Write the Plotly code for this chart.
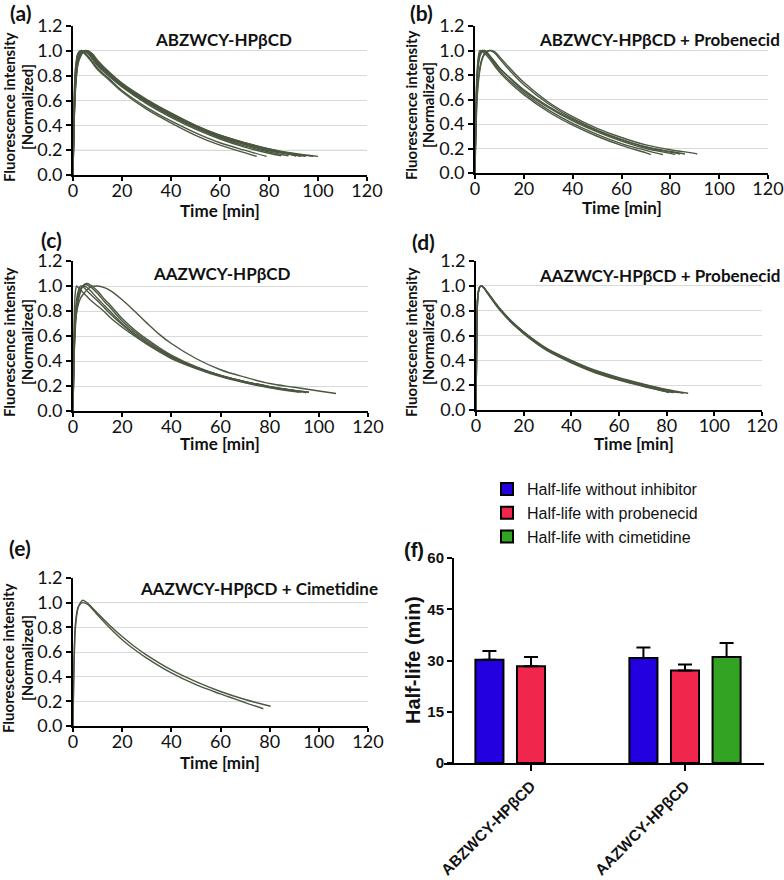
import plotly.graph_objects as go

# ---------------- data ----------------
# Panel (a) ABZWCY-HPβCD
A_GRID = [0, 0.5, 1, 2, 3, 4, 6, 8, 10, 15, 20, 30, 40, 50, 60, 70, 80, 90]
A_END = [75, 79, 85, 88, 91, 93, 95, 98, 100]
A_CURVES = [
    [0, .62, .86, .98, 1.0, .99, .95, .90, .85, .76, .67, .53, .42, .32, .24, .18, .15],
    [0, .58, .84, .97, 1.0, 1.0, .96, .91, .86, .77, .68, .545, .435, .34, .26, .20, .15],
    [0, .55, .80, .95, .99, 1.0, .98, .93, .88, .79, .71, .575, .465, .37, .29, .225, .175, .155],
    [0, .52, .78, .94, .99, 1.0, .985, .94, .89, .80, .715, .585, .475, .38, .30, .235, .185, .155],
    [0, .50, .76, .93, .98, 1.0, .99, .95, .90, .805, .72, .59, .48, .385, .305, .245, .195, .16, .15],
    [0, .48, .74, .92, .97, .995, 1.0, .96, .905, .81, .725, .595, .485, .39, .31, .25, .20, .16, .15],
    [0, .46, .72, .91, .97, .99, 1.0, .965, .91, .815, .73, .60, .49, .395, .315, .255, .205, .165, .15],
    [0, .45, .70, .90, .96, .99, 1.0, .97, .915, .82, .735, .605, .495, .40, .32, .26, .21, .17, .15],
    [0, .44, .68, .89, .95, .985, 1.0, .975, .925, .825, .74, .61, .50, .40, .32, .26, .21, .175, .15],
]

# Panel (b) ABZWCY-HPβCD + Probenecid
B_GRID = [0, 0.5, 1, 2, 3, 4, 6, 8, 10, 15, 20, 30, 40, 50, 60, 70, 80, 90]
B_END = [72, 77, 82, 84, 86, 91]
B_CURVES = [
    [0, .62, .87, 1.0, .99, .975, .93, .875, .825, .725, .64, .50, .39, .30, .225, .165, .15],
    [0, .58, .84, .98, 1.0, .99, .945, .89, .84, .74, .655, .515, .405, .315, .24, .185, .15],
    [0, .55, .80, .95, .99, 1.0, .96, .91, .86, .76, .67, .535, .425, .335, .26, .20, .16, .15],
    [0, .57, .82, .97, 1.0, .995, .955, .905, .855, .765, .68, .545, .435, .345, .27, .21, .17, .155],
    [0, .45, .68, .86, .94, .98, 1.0, .98, .935, .82, .72, .565, .445, .35, .275, .215, .175, .155],
    [0, .42, .65, .84, .93, .97, 1.0, .99, .95, .84, .74, .58, .46, .365, .29, .23, .19, .16, .155],
]

# Panel (c) AAZWCY-HPβCD
C_GRID = [0, 0.5, 1, 1.5, 2, 3, 4, 5.5, 7, 10, 13, 15, 20, 25, 30, 35, 40, 50, 60, 70, 80, 90, 100]
C_END = [92, 93, 95, 96, 96, 107]
C_CURVES = [
    [0, .75, .96, 1.0, .99, .97, .95, .92, .89, .84, .79, .75, .67, .60, .535, .475, .42, .34, .275, .225, .185, .155, .15],
    [0, .50, .75, .86, .92, .98, 1.0, .99, .965, .90, .84, .80, .70, .62, .55, .487, .43, .345, .28, .23, .19, .16, .15],
    [0, .45, .68, .80, .87, .95, 1.0, 1.02, 1.01, .96, .89, .85, .74, .65, .575, .508, .448, .355, .285, .235, .195, .165, .145],
    [0, .48, .72, .83, .89, .96, 1.0, 1.01, .995, .94, .87, .83, .72, .635, .562, .497, .44, .35, .285, .235, .195, .165, .15],
    [0, .55, .80, .90, .95, 1.0, .995, .965, .935, .88, .82, .78, .69, .61, .545, .487, .435, .35, .285, .235, .195, .165, .15],
    [0, .50, .72, .79, .84, .90, .93, .965, .99, 1.0, .985, .965, .89, .80, .705, .615, .54, .42, .33, .27, .22, .19, .16, .14],
]

# Panel (d) AAZWCY-HPβCD + Probenecid
D_GRID = [0, 0.3, 0.7, 1, 1.5, 2.2, 3, 5, 8, 10, 15, 20, 25, 30, 40, 50, 60, 70, 80]
D_END = [81, 83, 85, 87, 89]
D_CURVES = [
    [0, .6, .9, .95, .99, 1.0, .99, .935, .855, .805, .70, .615, .54, .475, .38, .30, .24, .19, .145, .14],
    [0, .6, .9, .95, .99, 1.0, .99, .937, .858, .808, .703, .619, .545, .48, .385, .305, .245, .195, .15, .14],
    [0, .6, .9, .95, .99, 1.0, .99, .94, .86, .812, .707, .623, .55, .485, .39, .31, .25, .20, .155, .14],
    [0, .6, .9, .95, .99, 1.0, .99, .942, .863, .815, .71, .627, .553, .49, .395, .315, .255, .205, .16, .135],
    [0, .6, .9, .95, .99, 1.0, .99, .945, .866, .818, .714, .63, .557, .493, .40, .32, .26, .21, .165, .135],
]

# Panel (e) AAZWCY-HPβCD + Cimetidine
E_GRID = [0, 0.5, 1, 2, 3, 4, 6, 8, 10, 15, 20, 25, 30, 40, 50, 60, 70]
E_END = [80.4, 77.4]
E_CURVES = [
    [0, .55, .80, .95, 1.0, 1.02, .995, .955, .915, .815, .725, .645, .575, .455, .36, .28, .215, .16],
    [0, .60, .83, .96, .99, 1.0, .985, .945, .90, .795, .70, .62, .55, .43, .335, .26, .19, .14],
]

PANEL_TITLES = ["ABZWCY-HPβCD", "ABZWCY-HPβCD + Probenecid", "AAZWCY-HPβCD",
                "AAZWCY-HPβCD + Probenecid", "AAZWCY-HPβCD + Cimetidine"]
PANEL_LETTERS = ["(a)", "(b)", "(c)", "(d)", "(e)", "(f)"]
GREEN_GRID = [[0.2, 0.6], [0.6], [], [], [1.0]]
X_TICKS = [0, 20, 40, 60, 80, 100, 120]
Y_TICKS = [0.0, 0.2, 0.4, 0.6, 0.8, 1.0, 1.2]

# Panel (f) half-life bars
F_CATEGORIES = ["ABZWCY-HPβCD", "AAZWCY-HPβCD"]
F_NAMES = ["Half-life without inhibitor", "Half-life with probenecid", "Half-life with cimetidine"]
F_NO_INHIB = [30.2, 30.7]
F_NO_INHIB_ERR = [2.6, 3.1]
F_PROBENECID = [28.3, 27.1]
F_PROBENECID_ERR = [2.7, 1.7]
F_CIMETIDINE = [None, 31.0]
F_CIMETIDINE_ERR = [0, 4.1]
F_Y_TICKS = [0, 15, 30, 45, 60]

# ---------------- layout helpers ----------------
W, H = 784, 880
def px(x):
    return x / W
def py(y):
    return 1 - y / H

LINE_COLOR = "#4b5740"
CAL = "Lato"
ARIAL = "Liberation Sans"

# pixel boxes: (x0, x1, ytop, ybottom)
BOXES = [(73, 367, 26, 175), (475, 768, 26, 173), (73, 368, 261, 411),
         (476, 762, 261, 410), (73, 368, 578, 726)]

fig = go.Figure()
layout = dict()
annotations = []
shapes = []

panel_data = [(A_GRID, A_END, A_CURVES), (B_GRID, B_END, B_CURVES), (C_GRID, C_END, C_CURVES),
              (D_GRID, D_END, D_CURVES), (E_GRID, E_END, E_CURVES)]

for i, (grid, ends, curves) in enumerate(panel_data, start=1):
    xa = "x" if i == 1 else f"x{i}"
    ya = "y" if i == 1 else f"y{i}"
    for end, ys in zip(ends, curves):
        t = list(grid[:len(ys) - 1]) + [end]
        fig.add_trace(go.Scatter(x=t, y=ys, mode="lines", xaxis=xa, yaxis=ya,
                                 line=dict(color=LINE_COLOR, width=1.4, shape="spline", smoothing=1.0),
                                 showlegend=False, hoverinfo="skip"))
    x0, x1, yt, yb = BOXES[i - 1]
    kx = "xaxis" if i == 1 else f"xaxis{i}"
    ky = "yaxis" if i == 1 else f"yaxis{i}"
    layout[kx] = dict(domain=[px(x0), px(x1)], anchor=ya, range=[0, 120], automargin=False,
                      tickvals=X_TICKS, showgrid=False, zeroline=False,
                      showline=True, linecolor="black", linewidth=2,
                      ticks="outside", ticklen=4, tickwidth=1.5, tickcolor="black",
                      ticklabelstandoff=-6,
                      tickfont=dict(family=CAL, size=18, color="#111"), fixedrange=True)
    layout[ky] = dict(domain=[py(yb), py(yt)], anchor=xa, range=[0, 1.2], automargin=False,
                      tickvals=Y_TICKS, tickformat=".1f", showgrid=True,
                      gridcolor="#d9d9d9", gridwidth=1, zeroline=False,
                      showline=True, linecolor="black", linewidth=2,
                      ticks="outside", ticklen=5, tickwidth=1.5, tickcolor="black",
                      tickfont=dict(family=CAL, size=18, color="#111"), fixedrange=True)
    for gy in GREEN_GRID[i - 1]:
        shapes.append(dict(type="line", xref=f"{xa} domain", yref=ya, x0=0, x1=1, y0=gy, y1=gy,
                           line=dict(color="#c8ecc4", width=1), layer="below"))

# titles, labels (window pixel positions)
TITLE_POS = [(223, 40, "center"), (782, 40, "right"), (222, 273, "center"),
             (782, 275, "right"), (380, 588, "right")]
LETTER_POS = [(20, 13), (422, 12), (51, 240), (423, 241), (20, 547)]
TIME_POS = [(220, 210), (622, 207), (220, 443), (634, 443), (220, 762)]
YT_POS = [(9, 27, 107), (411, 428, 105), (9, 27, 342), (411, 428, 342), (8, 27, 658)]

for i in range(5):
    tx, tyy, anc = TITLE_POS[i]
    annotations.append(dict(text=PANEL_TITLES[i], x=px(tx), y=py(tyy), xref="paper", yref="paper",
                            xanchor=anc, yanchor="middle", showarrow=False,
                            font=dict(family=CAL, size=17, color="#111", weight="bold")))
    lx, ly = LETTER_POS[i]
    annotations.append(dict(text=PANEL_LETTERS[i], x=px(lx), y=py(ly), xref="paper", yref="paper",
                            xanchor="center", yanchor="middle", showarrow=False,
                            font=dict(family=CAL, size=21, color="#111", weight="bold")))
    mx, my = TIME_POS[i]
    annotations.append(dict(text="Time [min]", x=px(mx), y=py(my), xref="paper", yref="paper",
                            xanchor="center", yanchor="middle", showarrow=False,
                            font=dict(family=CAL, size=17, color="#111", weight="bold")))
    a1, a2, ay = YT_POS[i]
    annotations.append(dict(text="Fluorescence intensity", x=px(a1), y=py(ay), xref="paper", yref="paper",
                            xanchor="center", yanchor="middle", showarrow=False, textangle=-90,
                            font=dict(family=CAL, size=15, color="#111", weight="bold")))
    annotations.append(dict(text="[Normalized]", x=px(a2), y=py(ay), xref="paper", yref="paper",
                            xanchor="center", yanchor="middle", showarrow=False, textangle=-90,
                            font=dict(family=CAL, size=15, color="#111", weight="bold")))

# ---------------- panel (f) ----------------
bar_colors = ["#2200e0", "#f0264c", "#33a324"]
f_vals = [F_NO_INHIB, F_PROBENECID, F_CIMETIDINE]
f_errs = [F_NO_INHIB_ERR, F_PROBENECID_ERR, F_CIMETIDINE_ERR]
for name, vals, errs, col in zip(F_NAMES, f_vals, f_errs, bar_colors):
    fig.add_trace(go.Bar(x=F_CATEGORIES, y=vals, name=name, xaxis="x6", yaxis="y6",
                         marker=dict(color=col, line=dict(color="black", width=2)),
                         error_y=dict(type="data", array=errs, arrayminus=[0] * len(errs),
                                      symmetric=False, color="black", thickness=2, width=7),
                         legendgroup=name, hoverinfo="skip"))

layout["xaxis6"] = dict(domain=[px(444), px(764)], anchor="y6", range=[-0.565, 1.513], automargin=False,
                        showgrid=False, zeroline=False, showline=True, linecolor="black", linewidth=2,
                        ticks="outside", ticklen=6, tickwidth=2, tickcolor="black", tickangle=-45,
                        tickfont=dict(family=ARIAL, size=15.5, color="#111", weight="bold"),
                        fixedrange=True)
layout["yaxis6"] = dict(domain=[py(763), py(558)], anchor="free", position=px(453), range=[0, 60],
                        automargin=False,
                        tickvals=F_Y_TICKS, showgrid=False, zeroline=False, showline=True,
                        linecolor="black", linewidth=2, ticks="outside", ticklen=5, tickwidth=2,
                        tickcolor="black", tickfont=dict(family=ARIAL, size=15, color="#111", weight="bold"),
                        fixedrange=True)
annotations.append(dict(text="Half-life (min)", x=px(413), y=py(660), xref="paper", yref="paper",
                        xanchor="center", yanchor="middle", showarrow=False, textangle=-90,
                        font=dict(family=ARIAL, size=20, color="#111", weight="bold")))
annotations.append(dict(text="(f)", x=px(414), y=py(550), xref="paper", yref="paper",
                        xanchor="center", yanchor="middle", showarrow=False,
                        font=dict(family=ARIAL, size=20, color="#111", weight="bold")))

fig.update_layout(
    width=W, height=H, margin=dict(l=0, r=0, t=0, b=0, autoexpand=False),
    paper_bgcolor="white", plot_bgcolor="white",
    barmode="group", bargap=0.19, bargroupgap=0.325,
    showlegend=True,
    legend=dict(x=px(487), y=py(472), xanchor="left", yanchor="top",
                font=dict(family=ARIAL, size=16, color="#111"),
                bgcolor="rgba(0,0,0,0)", tracegroupgap=2, traceorder="normal"),
    annotations=annotations, shapes=shapes,
    **layout,
)

# remove the browser's default 8 px body margin so the figure sits at the window origin
fig.write_html("out.html", config={"displayModeBar": False},
               post_script="document.body.style.margin='0';document.body.style.overflow='hidden';")
